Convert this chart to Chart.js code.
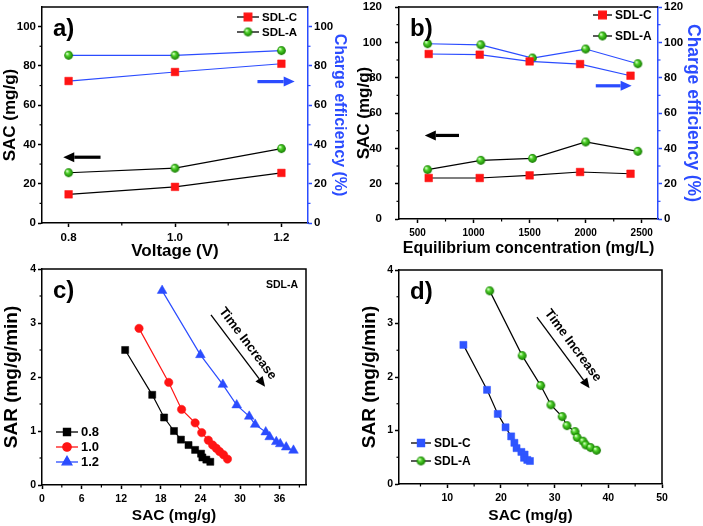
<!DOCTYPE html>
<html>
<head>
<meta charset="utf-8">
<script src="https://cdn.jsdelivr.net/npm/chart.js@4.4.1/dist/chart.umd.min.js"></script>
<style>
html, body { margin: 0; padding: 0; background: #fff; }
#wrap { position: relative; width: 703px; height: 526px; overflow: hidden; }
canvas { position: absolute; }
</style>
</head>
<body>
<div id="wrap">
	<canvas id="chA" width="351" height="266" style="left:0px;top:0px"></canvas>
	<canvas id="chB" width="352" height="266" style="left:351px;top:0px"></canvas>
	<canvas id="chC" width="351" height="268" style="left:0px;top:258px"></canvas>
	<canvas id="chD" width="352" height="268" style="left:351px;top:258px"></canvas>
</div>
<script>
// ---- panel a: voltage series
const voltage = [0.8, 1.0, 1.2];
const sacC_a = [14.6, 18.4, 25.5];
const sacA_a = [25.6, 27.9, 37.9];
const ceC_a = [72.3, 76.9, 81.1];
const ceA_a = [85.4, 85.4, 87.8];

// ---- panel b: equilibrium concentration series
const concC = [600, 1055, 1500, 1950, 2400];
const concA = [590, 1065, 1525, 2000, 2465];
const sacC_b = [23.2, 23.2, 24.7, 26.6, 25.6];
const sacA_b = [27.9, 33.2, 34.3, 43.6, 38.3];
const ceC_b = [93.4, 93.0, 89.2, 87.7, 81.1];
const ceA_b = [99.2, 98.6, 91.1, 96.2, 87.9];

// ---- panel c: SDL-A at 0.8 / 1.0 / 1.2 V
const sac08 = [12.6, 16.7, 18.5, 20.0, 21.05, 22.2, 23.2, 24.1, 24.3, 24.9, 25.5];
const sar08 = [2.50, 1.67, 1.25, 1.00, 0.84, 0.74, 0.65, 0.58, 0.51, 0.47, 0.43];
const sac10 = [14.7, 19.2, 21.15, 23.2, 24.2, 25.2, 25.85, 26.4, 26.9, 27.5, 28.1];
const sar10 = [2.90, 1.90, 1.40, 1.15, 0.97, 0.83, 0.74, 0.68, 0.62, 0.56, 0.48];
const sac12 = [18.2, 24.0, 27.4, 29.5, 31.4, 32.3, 33.9, 34.5, 35.5, 36.1, 37.0, 38.1];
const sar12 = [3.60, 2.41, 1.86, 1.48, 1.27, 1.12, 0.98, 0.89, 0.80, 0.76, 0.70, 0.64];

// ---- panel d: SDL-C vs SDL-A
const sacC_d = [13.0, 17.4, 19.4, 20.85, 21.9, 22.5, 22.9, 23.8, 24.4, 24.3, 24.9, 25.4];
const sarC_d = [2.60, 1.76, 1.31, 1.06, 0.89, 0.77, 0.67, 0.60, 0.55, 0.49, 0.45, 0.43];
const sacA_d = [17.9, 23.95, 27.4, 29.3, 31.4, 32.3, 33.8, 34.2, 35.3, 35.8, 36.7, 37.8];
const sarA_d = [3.61, 2.40, 1.84, 1.48, 1.26, 1.09, 0.98, 0.87, 0.80, 0.73, 0.68, 0.63];

// ---- ticks
const ticksA_x = [0.8, 1.0, 1.2];
const minorA_x = [0.9, 1.1];
const ticksA_y = [0, 20, 40, 60, 80, 100];
const minorA_y = [10, 30, 50, 70, 90];
const ticksB_x = [500, 1000, 1500, 2000, 2500];
const minorB_x = [750, 1250, 1750, 2250];
const ticksB_y = [0, 20, 40, 60, 80, 100, 120];
const minorB_y = [10, 30, 50, 70, 90, 110];
const ticksC_x = [0, 6, 12, 18, 24, 30, 36];
const minorC_x = [3, 9, 15, 21, 27, 33, 39];
const ticksCD_y = [0, 1, 2, 3, 4];
const minorCD_y = [0.5, 1.5, 2.5, 3.5];
const ticksD_x = [10, 20, 30, 40, 50];
const minorD_x = [5, 15, 25, 35, 45];

const FONT = '"Liberation Sans", Arial, sans-serif';
const BLUE = '#2b4cff';
const RED = '#ff1414';
Chart.defaults.font.family = FONT;
Chart.defaults.color = '#000';

function ball(r){
	const c = document.createElement('canvas');
	const s = Math.ceil(r * 2 + 2);
	c.width = c.height = s;
	const g = c.getContext('2d');
	const m = s / 2;
	const grad = g.createRadialGradient(m - r * 0.35, m - r * 0.4, r * 0.1, m, m, r);
	grad.addColorStop(0, '#d8ffc8');
	grad.addColorStop(0.35, '#4fd22a');
	grad.addColorStop(1, '#147a00');
	g.fillStyle = grad;
	g.beginPath(); g.arc(m, m, r, 0, Math.PI * 2); g.fill();
	return c;
}
const GREEN_BALL = ball(4.4);

const zip = (xs, ys) => xs.map((x, i) => ({x, y: ys[i]}));

function series(xs, ys, axis, line, style, radius, fill){
	return {
		data: zip(xs, ys), yAxisID: axis, showLine: true,
		borderColor: line, borderWidth: 1.2,
		pointStyle: style, pointRadius: radius, pointHoverRadius: radius,
		pointBackgroundColor: fill, pointBorderColor: fill, pointBorderWidth: 0.5
	};
}

function axis(o){
	const horiz = o.pos === 'bottom';
	return {
		type: 'linear', position: o.pos, min: o.min, max: o.max,
		afterBuildTicks: s => { s.ticks = o.ticks.map(v => ({value: v})); },
		afterFit: s => {
			if (horiz) s.height = o.size; else s.width = o.size;
			// keep the plot box where the layout padding puts it
			s.paddingTop = s.paddingBottom = s.paddingLeft = s.paddingRight = 0;
		},
		grid: {drawOnChartArea: false, tickLength: 4, tickWidth: 1.5, tickColor: o.color || '#000'},
		border: {color: o.color || '#000', width: 1.5},
		ticks: {
			font: {size: o.tsize || 11.5, weight: 'bold', family: FONT}, color: '#000',
			padding: o.tpad != null ? o.tpad : (horiz ? 4 : 2),
			maxRotation: 0, autoSkip: false, callback: o.fmt || (v => v)
		},
		title: {
			display: true, text: o.title, color: o.titleColor || '#000',
			font: {size: o.titleSize || 17, weight: 'bold', family: FONT},
			padding: o.titlePad || {top: 0, bottom: 0}
		}
	};
}

function arrowTo(ctx, x1, y1, x2, y2, w, head, hw, color){
	const ang = Math.atan2(y2 - y1, x2 - x1);
	const bx = x2 - Math.cos(ang) * head, by = y2 - Math.sin(ang) * head;
	ctx.strokeStyle = color; ctx.fillStyle = color; ctx.lineWidth = w;
	ctx.beginPath(); ctx.moveTo(x1, y1); ctx.lineTo(bx, by); ctx.stroke();
	ctx.beginPath();
	ctx.moveTo(x2, y2);
	ctx.lineTo(bx + Math.sin(ang) * hw, by - Math.cos(ang) * hw);
	ctx.lineTo(bx - Math.sin(ang) * hw, by + Math.cos(ang) * hw);
	ctx.closePath(); ctx.fill();
}

function deco(cfg){
	return {
		id: 'deco',
		afterDraw(chart){
			const ctx = chart.ctx, a = chart.chartArea, sc = chart.scales;
			ctx.save();
			// frame (top, and right when no second axis)
			ctx.strokeStyle = '#000'; ctx.lineWidth = 1.5;
			ctx.beginPath();
			ctx.moveTo(a.left, a.top); ctx.lineTo(a.right, a.top);
			if (!sc.y2) ctx.lineTo(a.right, a.bottom);
			ctx.stroke();
			// minor ticks
			ctx.lineWidth = 1.2;
			(cfg.minor.x || []).forEach(v => {
				const p = sc.x.getPixelForValue(v);
				if (p < a.left || p > a.right) return;
				ctx.strokeStyle = '#000';
				ctx.beginPath(); ctx.moveTo(p, a.bottom); ctx.lineTo(p, a.bottom + 2.5); ctx.stroke();
			});
			(cfg.minor.y || []).forEach(v => {
				const p = sc.y.getPixelForValue(v);
				ctx.strokeStyle = '#000';
				ctx.beginPath(); ctx.moveTo(a.left, p); ctx.lineTo(a.left - 2.5, p); ctx.stroke();
			});
			(cfg.minor.y2 || []).forEach(v => {
				const p = sc.y2.getPixelForValue(v);
				ctx.strokeStyle = BLUE;
				ctx.beginPath(); ctx.moveTo(a.right, p); ctx.lineTo(a.right + 2.5, p); ctx.stroke();
			});
			// panel label
			ctx.fillStyle = '#000';
			ctx.font = 'bold 24px ' + FONT;
			ctx.textAlign = 'left'; ctx.textBaseline = 'alphabetic';
			ctx.fillText(cfg.label, a.left + 11, a.top + 28.5);
			// note
			if (cfg.note) {
				ctx.font = 'bold 10.5px ' + FONT;
				ctx.textAlign = 'right'; ctx.textBaseline = 'middle';
				ctx.fillText(cfg.note, a.right - 8, a.top + 16);
			}
			// thick arrows
			(cfg.arrows || []).forEach(r => {
				const ys = sc[r.axis];
				arrowTo(ctx, sc.x.getPixelForValue(r.x1), ys.getPixelForValue(r.y),
					sc.x.getPixelForValue(r.x2), ys.getPixelForValue(r.y), 3.2, 11, 5, r.color);
			});
			// time arrow with rotated text
			if (cfg.time) {
				const t = cfg.time;
				const x1 = sc.x.getPixelForValue(t.x1), y1 = sc.y.getPixelForValue(t.y1);
				const x2 = sc.x.getPixelForValue(t.x2), y2 = sc.y.getPixelForValue(t.y2);
				arrowTo(ctx, x1, y1, x2, y2, 1.3, 10, 4.5, '#000');
				const ang = Math.atan2(y2 - y1, x2 - x1);
				const mx = (x1 + x2) / 2 + Math.sin(ang) * 12, my = (y1 + y2) / 2 - Math.cos(ang) * 12;
				ctx.translate(mx, my); ctx.rotate(ang);
				ctx.fillStyle = '#000';
				ctx.font = 'bold 13px ' + FONT;
				ctx.textAlign = 'center'; ctx.textBaseline = 'middle';
				ctx.fillText('Time Increase', 0, 0);
				ctx.setTransform(1, 0, 0, 1, 0, 0);
			}
			// legend
			const L = cfg.legend;
			L.items.forEach((it, i) => {
				const ds = chart.data.datasets[it.ds];
				const y = L.y + i * L.dy;
				ctx.strokeStyle = L.line || ds.borderColor; ctx.lineWidth = 1.3;
				ctx.beginPath(); ctx.moveTo(L.x, y); ctx.lineTo(L.x + L.len, y); ctx.stroke();
				ctx.fillStyle = ds.pointBackgroundColor; ctx.strokeStyle = ds.pointBorderColor;
				Chart.helpers.drawPoint(ctx, {pointStyle: ds.pointStyle, radius: ds.pointRadius, rotation: 0, borderWidth: 0.5}, L.x + L.len / 2, y);
				ctx.fillStyle = '#000';
				ctx.font = 'bold ' + L.size + 'px ' + FONT;
				ctx.textAlign = 'left'; ctx.textBaseline = 'middle';
				ctx.fillText(it.text, L.x + L.len + 3, y + 0.5);
			});
			ctx.restore();
		}
	};
}

function options(pad, scales){
	return {
		responsive: false, animation: false, devicePixelRatio: 1, events: [],
		layout: {padding: pad},
		plugins: {legend: {display: false}, tooltip: {enabled: false}},
		scales
	};
}

// ---------- a)
new Chart(document.getElementById('chA'), {
	type: 'scatter',
	data: {datasets: [
		series(voltage, sacC_a, 'y', '#000', 'rect', 5.4, RED),
		series(voltage, sacA_a, 'y', '#000', GREEN_BALL, 4.4, '#2fb812'),
		series(voltage, ceC_a, 'y2', BLUE, 'rect', 5.4, RED),
		series(voltage, ceA_a, 'y2', BLUE, GREEN_BALL, 4.4, '#2fb812')
	]},
	options: options({top: 7, left: 0, right: 0, bottom: 0}, {
		x: axis({pos: 'bottom', min: 0.75, max: 1.25, ticks: ticksA_x, size: 43, title: 'Voltage (V)', titleSize: 17, titlePad: {top: 0, bottom: 4}, fmt: v => v.toFixed(1)}),
		y: axis({pos: 'left', min: 0, max: 110, ticks: ticksA_y, size: 42, title: 'SAC (mg/g)', titleSize: 17, titlePad: {top: 0, bottom: 0}}),
		y2: axis({pos: 'right', min: 0, max: 110, ticks: ticksA_y, size: 43, color: BLUE, title: 'Charge efficiency (%)', titleSize: 16, titleColor: BLUE, titlePad: {top: 1.5, bottom: 0}})
	}),
	plugins: [deco({
		label: 'a)',
		minor: {x: minorA_x, y: minorA_y, y2: minorA_y},
		arrows: [
			{axis: 'y', x1: 0.86, x2: 0.79, y: 33.5, color: '#000'},
			{axis: 'y2', x1: 1.155, x2: 1.225, y: 72, color: BLUE}
		],
		legend: {x: 237, y: 17, dy: 15, len: 22, size: 11.5, line: '#000', items: [{text: 'SDL-C', ds: 0}, {text: 'SDL-A', ds: 1}]}
	})]
});

// ---------- b)
new Chart(document.getElementById('chB'), {
	type: 'scatter',
	data: {datasets: [
		series(concC, sacC_b, 'y', '#000', 'rect', 5.4, RED),
		series(concA, sacA_b, 'y', '#000', GREEN_BALL, 4.4, '#2fb812'),
		series(concC, ceC_b, 'y2', BLUE, 'rect', 5.4, RED),
		series(concA, ceA_b, 'y2', BLUE, GREEN_BALL, 4.4, '#2fb812')
	]},
	options: options({top: 7, left: 0, right: 0, bottom: 0}, {
		x: axis({pos: 'bottom', min: 335, max: 2645, ticks: ticksB_x, size: 47, tsize: 10, title: 'Equilibrium concentration (mg/L)', titleSize: 16, titlePad: {top: 0, bottom: 8}}),
		y: axis({pos: 'left', min: 0, max: 120, ticks: ticksB_y, size: 48, tpad: 13, title: 'SAC (mg/g)', titleSize: 17, titlePad: {top: 3.5, bottom: 0}}),
		y2: axis({pos: 'right', min: 0, max: 120, ticks: ticksB_y, size: 45, color: BLUE, title: 'Charge efficiency (%)', titleSize: 17.5, titleColor: BLUE, titlePad: {top: 0, bottom: 0}})
	}),
	plugins: [deco({
		label: 'b)',
		minor: {x: minorB_x, y: minorB_y, y2: minorB_y},
		arrows: [
			{axis: 'y', x1: 870, x2: 565, y: 47.3, color: '#000'},
			{axis: 'y2', x1: 2090, x2: 2410, y: 75.4, color: BLUE}
		],
		legend: {x: 242, y: 15, dy: 21, len: 19, size: 12, line: '#000', items: [{text: 'SDL-C', ds: 0}, {text: 'SDL-A', ds: 1}]}
	})]
});

// ---------- c)
new Chart(document.getElementById('chC'), {
	type: 'scatter',
	data: {datasets: [
		series(sac08, sar08, 'y', '#000', 'rect', 5, '#000'),
		series(sac10, sar10, 'y', RED, 'circle', 4.2, RED),
		series(sac12, sar12, 'y', BLUE, 'triangle', 5.6, BLUE)
	]},
	options: options({top: 11, left: 0, right: 45, bottom: 0}, {
		x: axis({pos: 'bottom', min: 0, max: 40, ticks: ticksC_x, size: 41, tsize: 10.5, title: 'SAC (mg/g)', titleSize: 15.5, titlePad: {top: 0, bottom: 1}}),
		y: axis({pos: 'left', min: 0, max: 4, ticks: ticksCD_y, size: 42, tsize: 10.5, title: 'SAR (mg/g/min)', titleSize: 19, titlePad: {top: 0.5, bottom: 0}})
	}),
	plugins: [deco({
		label: 'c)',
		note: 'SDL-A',
		minor: {x: minorC_x, y: minorCD_y},
		time: {x1: 25.6, y1: 3.15, x2: 33.8, y2: 1.82},
		legend: {x: 56, y: 174, dy: 15, len: 22, size: 13, items: [{text: '0.8', ds: 0}, {text: '1.0', ds: 1}, {text: '1.2', ds: 2}]}
	})]
});

// ---------- d)
new Chart(document.getElementById('chD'), {
	type: 'scatter',
	data: {datasets: [
		series(sacC_d, sarC_d, 'y', '#000', 'rect', 5, '#2f55ff'),
		series(sacA_d, sarA_d, 'y', '#000', GREEN_BALL, 4.4, '#2fb812')
	]},
	options: options({top: 12, left: 0, right: 41, bottom: 0}, {
		x: axis({pos: 'bottom', min: 1, max: 50, ticks: ticksD_x, size: 42, tsize: 10.5, title: 'SAC (mg/g)', titleSize: 15.5, titlePad: {top: 0, bottom: 1}}),
		y: axis({pos: 'left', min: 0, max: 4, ticks: ticksCD_y, size: 48, tsize: 10.5, title: 'SAR (mg/g/min)', titleSize: 19, titlePad: {top: 7, bottom: 0}})
	}),
	plugins: [deco({
		label: 'd)',
		minor: {x: minorD_x, y: minorCD_y},
		time: {x1: 26.7, y1: 3.12, x2: 36.5, y2: 1.79},
		legend: {x: 60, y: 185, dy: 18, len: 20, size: 12, line: '#000', items: [{text: 'SDL-C', ds: 0}, {text: 'SDL-A', ds: 1}]}
	})]
});
</script>
</body>
</html>
